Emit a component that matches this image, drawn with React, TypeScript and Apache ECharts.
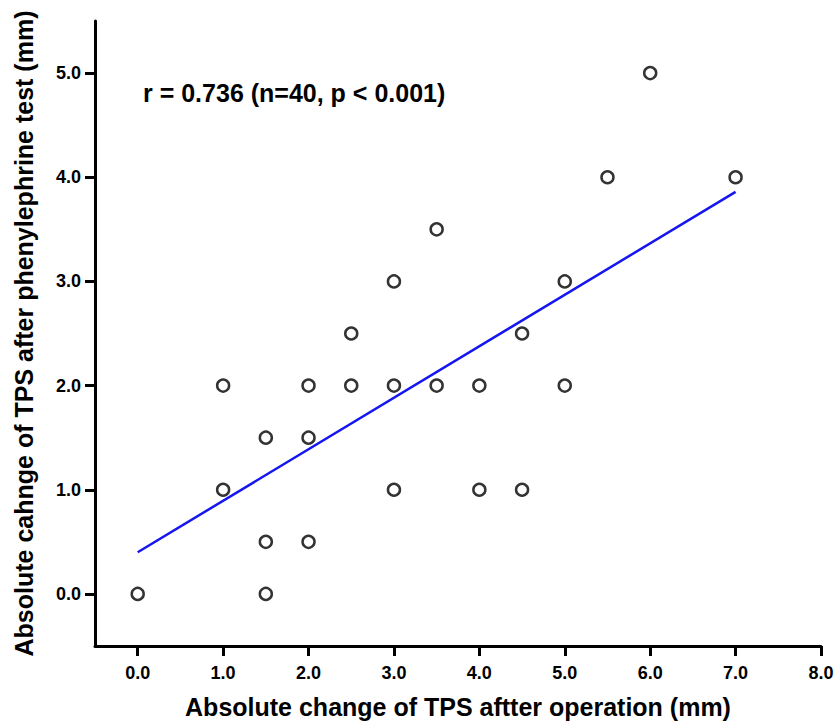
import React, { useEffect, useRef } from "react";
import * as echarts from "echarts";

const pointsX = [0, 1, 1, 1.5, 1.5, 1.5, 2, 2, 2, 2.5, 2.5, 3, 3, 3, 3.5, 3.5, 4, 4, 4.5, 4.5, 5, 5, 5.5, 6, 7];
const pointsY = [0, 2, 1, 1.5, 0.5, 0, 2, 1.5, 0.5, 2.5, 2, 3, 2, 1, 3.5, 2, 2, 1, 2.5, 1, 3, 2, 4, 5, 4];
const fitX = [0, 7];
const fitY = [0.4, 3.86];
const xTicks = [0, 1, 2, 3, 4, 5, 6, 7, 8];
const yTicks = [0, 1, 2, 3, 4, 5];
const annotation = "r = 0.736 (n=40, p < 0.001)";
const xTitle = "Absolute change of TPS aftter operation (mm)";
const yTitle = "Absolute cahnge of TPS after phenylephrine test (mm)";

const FONT = "Liberation Sans, Arial, sans-serif";

export default function App() {
  const ref = useRef<HTMLDivElement>(null);
  useEffect(() => {
    if (!ref.current) return;
    const chart = echarts.init(ref.current, null, { renderer: "svg" });
    chart.setOption({
      animation: false,
      backgroundColor: "#ffffff",
      grid: { left: 95, right: 16, top: 21, bottom: 81, containLabel: false, outerBoundsMode: "none" },
      xAxis: {
        type: "value",
        min: -0.5,
        max: 8,
        name: xTitle,
        nameLocation: "middle",
        nameGap: 48,
        nameTextStyle: { fontFamily: FONT, fontWeight: "bold", fontSize: 25, color: "#000" },
        axisLine: { show: true, onZero: false, lineStyle: { color: "#000", width: 3 } },
        axisTick: { show: true, customValues: xTicks, length: 10, lineStyle: { color: "#000", width: 3 } },
        axisLabel: {
          customValues: xTicks,
          formatter: (v: number) => v.toFixed(1),
          fontFamily: FONT, fontWeight: "bold", fontSize: 18, color: "#000", margin: 18,
        },
        splitLine: { show: false },
      },
      yAxis: {
        type: "value",
        min: -0.5,
        max: 5.5,
        name: yTitle,
        nameLocation: "middle",
        nameGap: 59,
        nameTextStyle: { fontFamily: FONT, fontWeight: "bold", fontSize: 25, color: "#000" },
        axisLine: { show: true, onZero: false, lineStyle: { color: "#000", width: 3 } },
        axisTick: { show: true, customValues: yTicks, length: 10, lineStyle: { color: "#000", width: 3 } },
        axisLabel: {
          customValues: yTicks,
          formatter: (v: number) => v.toFixed(1),
          fontFamily: FONT, fontWeight: "bold", fontSize: 18, color: "#000", margin: 14,
        },
        splitLine: { show: false },
      },
      graphic: [
        {
          type: "text",
          left: 143,
          top: 80,
          style: { text: annotation, fontFamily: FONT, fontWeight: "bold", fontSize: 25, fill: "#000" },
        },
      ],
      series: [
        {
          type: "line",
          data: fitX.map((x, i) => [x, fitY[i]]),
          symbol: "none",
          lineStyle: { color: "#1515f0", width: 2.5 },
          z: 2,
        },
        {
          type: "scatter",
          data: pointsX.map((x, i) => [x, pointsY[i]]),
          symbol: "circle",
          symbolSize: 12,
          itemStyle: { color: "#ffffff", borderColor: "#000", borderWidth: 2.5 },
          z: 3,
        },
      ],
    });
    return () => chart.dispose();
  }, []);
  return (
    <div
      ref={ref}
      style={{ position: "absolute", left: 0, top: 0, width: 837, height: 727, overflow: "hidden" }}
    />
  );
}
